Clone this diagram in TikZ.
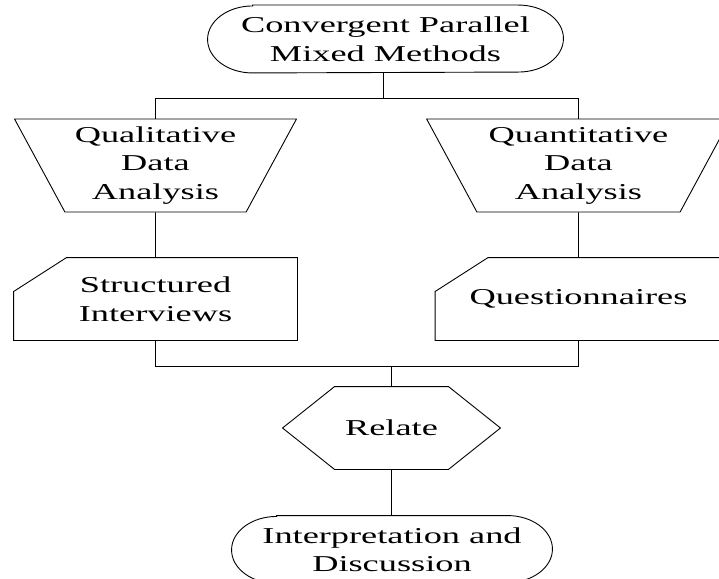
\documentclass[tikz,border=0pt]{standalone}
\usepackage{fontspec}
\setmainfont{Liberation Serif}[FakeStretch=1.6]
\usetikzlibrary{shapes.geometric}
\tikzset{
  terminal/.style={rectangle, minimum width=352pt, minimum height=67pt, align=center},
  datatrap/.style={draw, trapezium, trapezium left angle=60, trapezium right angle=60, shape border rotate=180, trapezium stretches=true, minimum height=93pt, inner sep=0pt, align=center},
  cardbox/.style={rectangle, minimum width=283pt, minimum height=82pt, align=center},
  hexbox/.style={rectangle, minimum width=217pt, minimum height=82pt, align=center}
}
\begin{document}
\begin{tikzpicture}[x=1pt, y=-1pt, line width=0.9pt, font=\fontsize{22.7}{28.5}\selectfont]
  \useasboundingbox (0,0) rectangle (719,578);
  \node[terminal, minimum width=355pt] (cpmm) at (385.5,39) {Convergent Parallel\\Mixed Methods};
  \node[datatrap, minimum width=282pt] (qual) at (155.5,165.5) {Qualitative\\Data\\Analysis};
  \node[datatrap, minimum width=304pt] (quant) at (578.5,165.5) {Quantitative\\Data\\Analysis};
  \node[cardbox] (si) at (155.5,299) {Structured\\Interviews};
  \node[cardbox, minimum width=286pt] (qn) at (578.5,299) {Questionnaires};
  \node[hexbox] (rel) at (391.5,428) {Relate};
  \node[terminal, minimum width=320pt] (interp) at (392,549.5) {Interpretation and\\Discussion};
  \coordinate (split) at (383.5,98.5);
  \coordinate (merge) at (391.5,366.5);
  % outlines
  \foreach \n in {cpmm,interp}
    \draw ([xshift=45pt]\n.north west) -- ([xshift=-45pt]\n.north east)
      arc[start angle=90, end angle=-90, x radius=45pt, y radius=33.5pt]
      -- ([xshift=45pt]\n.south west)
      arc[start angle=270, end angle=90, x radius=45pt, y radius=33.5pt] -- cycle;
  \foreach \n in {si,qn}
    \draw ([xshift=53pt]\n.north west) -- (\n.north east) -- (\n.south east) -- (\n.south west) -- ([yshift=-34pt]\n.north west) -- cycle;
  \draw (rel.west) -- ([xshift=52pt]rel.north west) -- ([xshift=-52pt]rel.north east) -- (rel.east) -- ([xshift=-52pt]rel.south east) -- ([xshift=52pt]rel.south west) -- cycle;
  % connectors
  \draw (cpmm.south -| split) -- (split);
  \draw (qual) |- (split) -| (quant);
  \draw (qual) -- (si);
  \draw (quant) -- (qn);
  \draw (si) |- (merge) -| (qn);
  \draw (merge) -- (rel);
  \draw (rel) -- (interp.north -| rel);
\end{tikzpicture}
\end{document}
